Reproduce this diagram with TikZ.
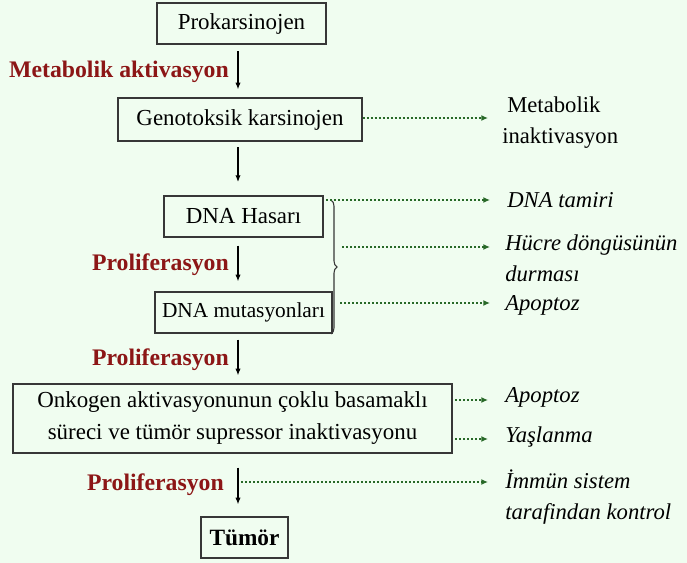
\documentclass[tikz,border=0pt]{standalone}
\usepackage{fontspec}
\setmainfont{Liberation Serif}
\usetikzlibrary{arrows.meta,decorations.pathreplacing,calc}
\definecolor{bg}{RGB}{240,253,240}
\definecolor{lbl}{RGB}{140,22,22}
\definecolor{dgreen}{RGB}{40,105,40}
\definecolor{boxc}{RGB}{55,55,55}
\begin{document}
\begin{tikzpicture}[x=0.75pt,y=-0.75pt,
  box/.style={draw=boxc,line width=1.1pt,inner sep=0pt,align=center,font=\fontsize{17.2}{24}\selectfont},
  lab/.style={text=lbl,font=\fontsize{17.8}{20}\selectfont\bfseries,anchor=east,inner sep=0pt},
  side/.style={anchor=west,inner sep=0pt,align=left,font=\fontsize{17}{23}\selectfont\itshape},
  arr/.style={-{Latex[length=5pt,width=4pt]},line width=0.8pt},
  dotarr/.style={dgreen,line width=1.1pt,dash pattern=on 1.5pt off 1.5pt,-{Latex[length=5pt,width=4.5pt]}}]
\fill[bg] (0,0) rectangle (687,563);
\useasboundingbox (0,0) rectangle (687,563);

% boxes
\node[box,minimum width=126.75pt,minimum height=30.75pt] (prok) at (241.5,23.5) {Prokarsinojen};
\node[box,minimum width=183pt,minimum height=32.25pt] (geno) at (240,119.5) {Genotoksik karsinojen};
\node[box,minimum width=119.25pt,minimum height=30.75pt] (hasar) at (243.5,216.5) {DNA Hasarı};
\node[box,minimum width=132.75pt,minimum height=30.75pt,font=\fontsize{16}{20}\selectfont] (mut) at (243.5,312.5) {DNA mutasyonları};
\node[box,minimum width=329.25pt,minimum height=51.75pt] (onk) at (232.5,418.5) {Onkogen aktivasyonunun çoklu basamaklı\\süreci ve tümör supressor inaktivasyonu};
\node[box,minimum width=65.25pt,minimum height=30.75pt,font=\fontsize{17.5}{20}\selectfont\bfseries] (tum) at (244.5,537.5) {Tümör};

% labels
\node[lab] (l1) at (229,72) {Metabolik aktivasyon};
\node[lab] (l2) at (229,265) {Proliferasyon};
\node[lab] (l3) at (229,360) {Proliferasyon};
\node[lab] (l4) at (224,485) {Proliferasyon};

% main arrows
\coordinate (ax) at (238,0);
\draw[arr,shorten <=5pt,shorten >=6pt] (prok.south -| ax) -- (geno.north -| ax);
\draw[arr,shorten <=4pt,shorten >=10pt] (geno.south -| ax) -- (hasar.north -| ax);
\draw[arr,shorten <=6pt,shorten >=7.5pt] (hasar.south -| ax) -- (mut.north -| ax);
\draw[arr,shorten <=4.5pt,shorten >=6pt] (mut.south -| ax) -- (onk.north -| ax);
\draw[arr,shorten <=10.5pt,shorten >=9pt] (onk.south -| ax) -- (tum.north -| ax);

% brace
\draw[boxc,line width=0.8pt,decorate,decoration={brace,amplitude=4.5pt}] (331,200) -- (331,334);

% side texts
\node[side,font=\fontsize{17}{23}\selectfont] (t1) at (502,122.5) {\hspace*{3.75pt}Metabolik\\inaktivasyon};
\node[side] (t2) at (507,200) {DNA tamiri};
\node[side] (t3) at (505,258) {Hücre döngüsünün\\durması};
\node[side] (t4) at (505,305) {Apoptoz};
\node[side] (t5) at (505,397) {Apoptoz};
\node[side] (t6) at (505,437) {Yaşlanma};
\node[side] (t7) at (505,497) {İmmün sistem\\tarafindan kontrol};

% dotted connectors
\coordinate (s2) at (326,200);
\coordinate (s3) at (342,247);
\coordinate (s4) at (340,303);
\coordinate (s7) at (241,482);
\coordinate (e1) at (488,118);
\coordinate (e2) at (490,200);
\coordinate (e3) at (490,247);
\coordinate (e4) at (490,303);
\coordinate (e5) at (488,400);
\coordinate (e6) at (488,439);
\coordinate (e7) at (488,482);
\draw[dotarr] (geno.east |- e1) -- (e1);
\draw[dotarr] (s2) -- (e2);
\draw[dotarr] (s3) -- (e3);
\draw[dotarr] (s4) -- (e4);
\draw[dotarr,shorten <=2pt] (onk.east |- e5) -- (e5);
\draw[dotarr,shorten <=2pt] (onk.east |- e6) -- (e6);
\draw[dotarr] (s7) -- (e7);
\end{tikzpicture}
\end{document}
